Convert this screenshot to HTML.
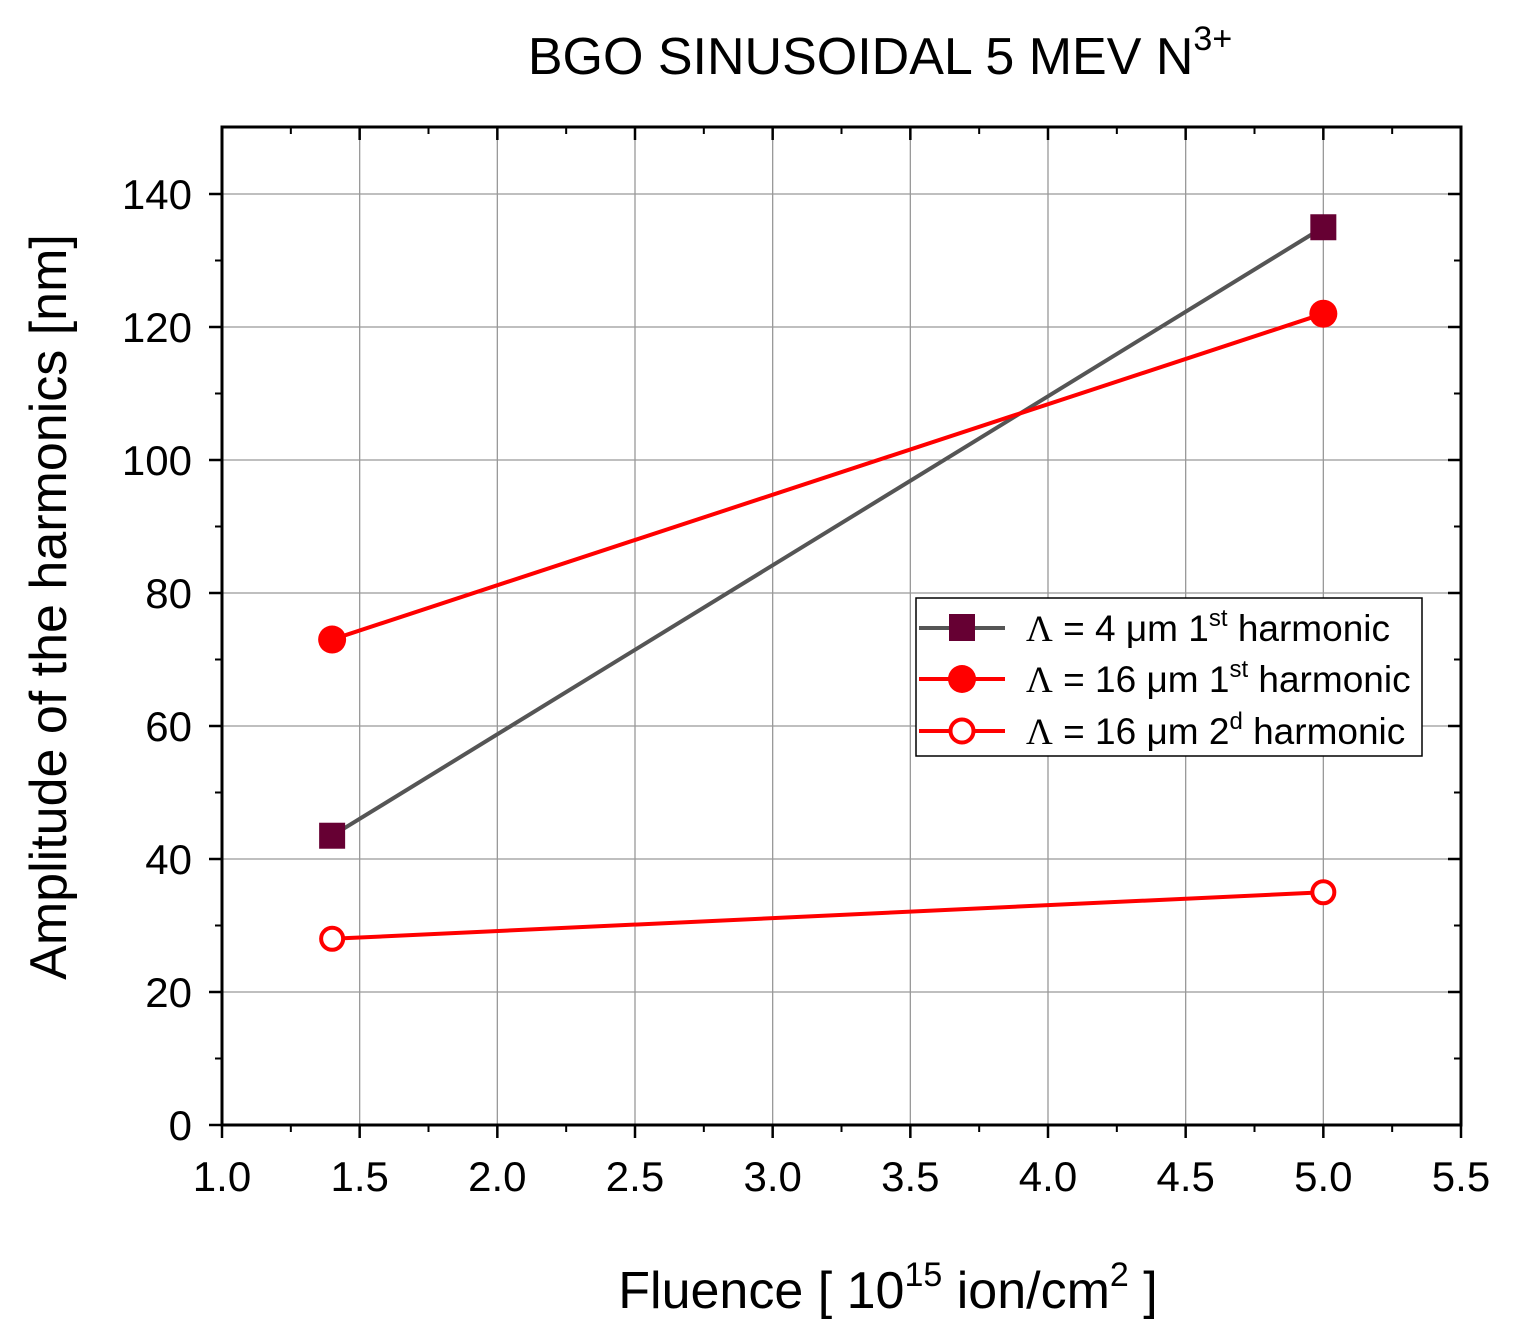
<!DOCTYPE html>
<html><head><meta charset="utf-8"><style>
body{margin:0;background:#fff}
svg text{font-family:"Liberation Sans",sans-serif;fill:#000}
</style></head><body>
<svg id="chart" width="1523" height="1338" xmlns="http://www.w3.org/2000/svg">
<text x="880" y="74" font-size="52" text-anchor="middle">BGO SINUSOIDAL 5 MEV N<tspan dy="-24" font-size="34">3+</tspan></text>
<g id="grid"></g>
<g id="axes"></g>
<g id="series"></g>
<text x="888" y="1308" font-size="52" text-anchor="middle">Fluence [ 10<tspan dy="-22" font-size="34">15</tspan><tspan dy="22"> ion/cm</tspan><tspan dy="-22" font-size="34">2</tspan><tspan dy="22"> ]</tspan></text>
<text transform="translate(66,607) rotate(-90)" font-size="52" text-anchor="middle">Amplitude of the harmonics [nm]</text>
<g>
<rect x="916" y="598" width="506" height="158" fill="#fff" stroke="#000" stroke-width="1.5"/>
<line x1="919" y1="628" x2="1005" y2="628" stroke="#555" stroke-width="4"/>
<rect x="949" y="614" width="26" height="27" fill="#660033"/>
<text x="1026" y="641" font-size="37"><tspan font-family="Liberation Serif">Λ</tspan> = 4 μm 1<tspan dy="-15" font-size="24">st</tspan><tspan dy="15"> harmonic</tspan></text>
<line x1="919" y1="679" x2="1005" y2="679" stroke="#f00" stroke-width="4"/>
<circle cx="962" cy="679" r="14" fill="#f00"/>
<text x="1026" y="692" font-size="37"><tspan font-family="Liberation Serif">Λ</tspan> = 16 μm 1<tspan dy="-15" font-size="24">st</tspan><tspan dy="15"> harmonic</tspan></text>
<line x1="919" y1="731" x2="1005" y2="731" stroke="#f00" stroke-width="4"/>
<circle cx="962" cy="731" r="11.5" fill="#fff" stroke="#f00" stroke-width="4"/>
<text x="1026" y="744" font-size="37"><tspan font-family="Liberation Serif">Λ</tspan> = 16 μm 2<tspan dy="-15" font-size="24">d</tspan><tspan dy="15"> harmonic</tspan></text>
</g>
</svg>
<script>
const xTicks=[1.0,1.5,2.0,2.5,3.0,3.5,4.0,4.5,5.0,5.5];
const yTicks=[0,20,40,60,80,100,120,140];
const fluence=[1.4,5.0];
const s4um1st=[43.5,135];
const s16um1st=[73,122];
const s16um2nd=[28,35];
const L=222,R=1461,T=127,B=1125;
const X=v=>L+(v-1)/4.5*(R-L);
const Y=v=>B-v*(B-194)/140;
const NS="http://www.w3.org/2000/svg";
function mk(p,t,a){const e=document.createElementNS(NS,t);for(const k in a)e.setAttribute(k,a[k]);p.appendChild(e);return e;}
const grid=document.getElementById('grid'),axes=document.getElementById('axes'),ser=document.getElementById('series');
xTicks.forEach(v=>{const x=X(v);
 if(v>1&&v<5.5){const g=mk(grid,'line',{x1:x,x2:x,y1:T,y2:B,stroke:'#999','stroke-width':1.3});
 
 }
 mk(axes,'line',{x1:x,x2:x,y1:B,y2:B+13,stroke:'#000','stroke-width':2.5});
 mk(axes,'line',{x1:x,x2:x,y1:T,y2:T+13,stroke:'#000','stroke-width':2.5});
 const m=X(v+0.25);if(v<5.5){mk(axes,'line',{x1:m,x2:m,y1:B,y2:B+7,stroke:'#000','stroke-width':2});mk(axes,'line',{x1:m,x2:m,y1:T,y2:T+7,stroke:'#000','stroke-width':2});}
 const t=mk(axes,'text',{x:x,y:B+66,'font-size':42,'text-anchor':'middle'});t.textContent=v.toFixed(1);
 
 
});
yTicks.forEach(v=>{const y=Y(v);
 if(v>0){const g=mk(grid,'line',{x1:L,x2:R,y1:y,y2:y,stroke:'#999','stroke-width':1.3});
 
 }
 mk(axes,'line',{x1:L-13,x2:L,y1:y,y2:y,stroke:'#000','stroke-width':2.5});
 mk(axes,'line',{x1:R-13,x2:R,y1:y,y2:y,stroke:'#000','stroke-width':2.5});
 const m=Y(v+10);if(v+10<150){mk(axes,'line',{x1:L-7,x2:L,y1:m,y2:m,stroke:'#000','stroke-width':2});mk(axes,'line',{x1:R-7,x2:R,y1:m,y2:m,stroke:'#000','stroke-width':2});}
 const t=mk(axes,'text',{x:L-30,y:y+15,'font-size':42,'text-anchor':'end'});t.textContent=v;
 
 
});
mk(axes,'rect',{x:L,y:T,width:R-L,height:B-T,fill:'none',stroke:'#000','stroke-width':3});
function line(d,c,name){const p=mk(ser,'polyline',{points:fluence.map((f,i)=>X(f)+','+Y(d[i])).join(' '),fill:'none',stroke:c,'stroke-width':4});
 
 }
line(s4um1st,'#555','line-4um-1st');
line(s16um1st,'#f00','line-16um-1st');
line(s16um2nd,'#f00','line-16um-2nd');
fluence.forEach((f,i)=>{
 const a=mk(ser,'rect',{x:X(f)-13,y:Y(s4um1st[i])-13,width:26,height:26,fill:'#660033'});
 
 
 const b=mk(ser,'circle',{cx:X(f),cy:Y(s16um1st[i]),r:14,fill:'#f00'});
 
 
 const c=mk(ser,'circle',{cx:X(f),cy:Y(s16um2nd[i]),r:11,fill:'#fff',stroke:'#f00','stroke-width':4});
 
 
});
</script>
</body></html>
